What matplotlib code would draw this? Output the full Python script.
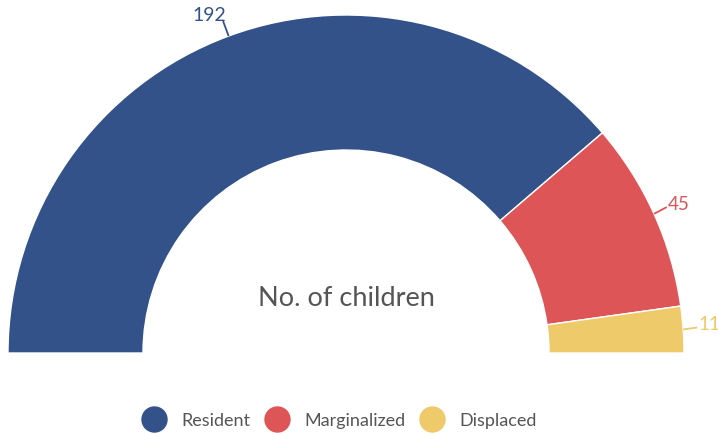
import matplotlib
matplotlib.use("Agg")
import matplotlib.pyplot as plt
from matplotlib.lines import Line2D
import numpy as np

categories = ["Resident", "Marginalized", "Displaced"]
values = [192, 45, 11]
colors = ["#34528a", "#dd5557", "#efca6a"]
center_label = "No. of children"

plt.rcParams['font.family'] = ['Lato', 'DejaVu Sans']

W, H = 718, 435
fig = plt.figure(figsize=(W / 100, H / 100), dpi=100)
ax = fig.add_axes([0, 0, 1, 1])

cx, cy = 346, H - 354
R, width = 338, 135
total = sum(values)

wedges, _ = ax.pie(values + [total], colors=colors + ["none"], startangle=180,
                   counterclock=False, radius=R, center=(cx, cy), frame=True,
                   wedgeprops=dict(width=width, edgecolor="white", linewidth=1))
wedges[-1].set_edgecolor("none")
ax.set_xlim(0, W)
ax.set_ylim(0, H)
ax.set_aspect('auto')
ax.axis('off')

# data labels with connectors
start = 180.0
for v, c in zip(values, colors):
    span = v / total * 180.0
    mid = np.deg2rad(start - span / 2)
    start -= span
    x0, y0 = cx + R * np.cos(mid), cy + R * np.sin(mid)
    if np.cos(mid) < 0:
        x1, y1 = cx + (R + 16) * np.cos(mid), cy + (R + 16) * np.sin(mid)
        ax.plot([x0, x1], [y0, y1], color=c, lw=1.3, solid_capstyle='butt')
        ax.text(x1 + 3, y1 - 2, str(v), color=c, fontsize=14,
                ha='right', va='bottom')
    else:
        x1, y1 = cx + (R + 14) * np.cos(mid), cy + (R + 14) * np.sin(mid)
        ax.plot([x0, x1], [y0, y1 + 1], color=c, lw=1.3, solid_capstyle='butt')
        ax.text(x1 + 1, y1 - 4, str(v), color=c, fontsize=13.5,
                ha='left', va='bottom')

ax.text(cx, H - 298, center_label, color="#555555", fontsize=19.5,
        ha='center', va='center')

handles = [Line2D([], [], marker='o', linestyle='none', markersize=18,
                  markerfacecolor=c, markeredgecolor=c) for c in colors]
fig.legend(handles, categories, loc='center', bbox_to_anchor=(340 / W, 1 - 421 / H),
           ncol=3, frameon=False, fontsize=13, labelcolor="#555555",
           handletextpad=0.9, columnspacing=0.9, handlelength=1.2)

fig.savefig("out.png", dpi=100)
